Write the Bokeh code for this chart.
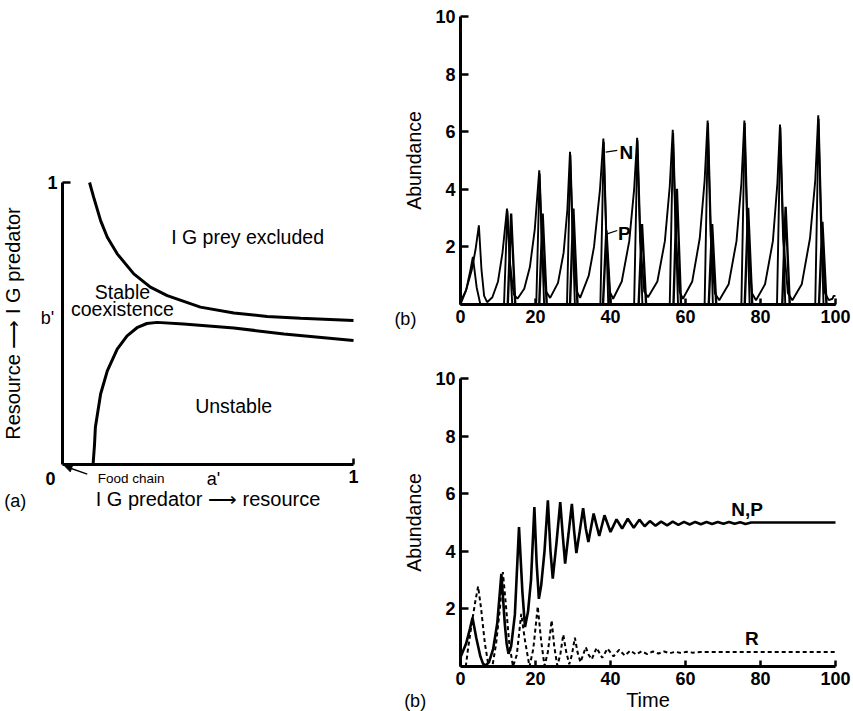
from bokeh.plotting import figure
from bokeh.models import Range1d, FixedTicker, Label, Arrow, NormalHead, LinearAxis
from bokeh.layouts import row, column
from bokeh.embed import file_html
from bokeh.resources import INLINE

FONT = "Liberation Sans"

# ---------------- panel (a): stability regions ----------------
upper_x = [0.093, 0.107, 0.131, 0.154, 0.188, 0.245, 0.302, 0.36, 0.474, 0.589, 0.703, 0.818, 1.0]
upper_y = [1.0, 0.948, 0.865, 0.806, 0.747, 0.676, 0.629, 0.599, 0.558, 0.537, 0.525, 0.519, 0.511]
lower_x = [0.105, 0.11, 0.113, 0.131, 0.154, 0.188, 0.222, 0.256, 0.29, 0.325, 0.416, 0.589, 0.761, 1.0]
lower_y = [0.0, 0.07, 0.132, 0.25, 0.332, 0.409, 0.456, 0.485, 0.50, 0.504, 0.498, 0.484, 0.463, 0.44]
a_prime = 0.519
b_prime = 0.521
region_labels = ["I G prey excluded", "Stable", "coexistence", "Unstable"]
region_x = [0.636, 0.206, 0.206, 0.588]
region_y = [0.805, 0.613, 0.55, 0.206]

# ---------------- panel (b) top: cycles ----------------
Rt_t = [0, 1.5, 3.0, 4.0, 4.9, 5.6, 6.3, 7.1, 8.5, 10.0, 11.2, 12.4, 13.2, 14.2, 15.2,
        17.0, 18.5, 19.8, 21.0, 21.8, 22.8, 23.9, 26.0, 27.5, 28.5, 29.2, 30.0, 31.0, 31.9,
        34.2, 35.6, 37.2, 38.1, 38.9, 39.8, 40.7, 43.0, 45.0, 46.3, 47.1, 47.9, 49.0, 50.0,
        52.5, 54.5, 55.8, 56.6, 57.4, 58.4, 59.3, 61.8, 63.8, 65.1, 65.9, 66.7, 67.8, 69.0,
        71.5, 73.6, 74.9, 75.7, 76.5, 77.7, 78.8, 81.2, 83.3, 84.5, 85.2, 86.0, 87.3, 88.5,
        91.0, 93.2, 94.6, 95.4, 96.2, 97.2, 98.2, 99.2, 99.5, 100]
Rt_v = [0.1, 0.5, 1.2, 1.9, 2.75, 1.2, 0.3, 0.08, 0.25, 0.8, 1.8, 3.33, 1.4, 0.35, 0.2,
        0.55, 1.3, 2.6, 4.66, 1.8, 0.45, 0.23, 0.75, 1.8, 3.3, 5.3, 2.0, 0.45, 0.23,
        1.0, 2.0, 4.0, 5.76, 2.2, 0.45, 0.2, 0.8, 2.2, 4.0, 5.79, 2.2, 0.45, 0.25,
        0.8, 2.2, 4.1, 6.07, 2.4, 0.45, 0.2, 0.8, 2.3, 4.3, 6.39, 2.4, 0.4, 0.15,
        0.7, 2.2, 4.2, 6.39, 2.4, 0.4, 0.15, 0.7, 2.2, 4.2, 6.25, 2.4, 0.4, 0.15,
        0.7, 2.3, 4.3, 6.57, 2.4, 0.4, 0.15, 0.2, 0.3, 0.3]
Nt_t = [0, 1.5, 2.5, 3.3, 4.3, 5.3, 11.6, 12.5, 13.8, 20.2, 21.1, 22.3, 28.4, 29.3, 30.5,
        37.3, 38.2, 39.4, 46.3, 47.2, 48.5, 55.8, 56.7, 58.0, 65.1, 66.0, 67.3, 74.9, 75.8, 77.1,
        84.4, 85.3, 86.6, 94.6, 95.5, 96.8, 100]
Nt_v = [0, 0.5, 1.1, 1.65, 0.6, 0, 0, 3.25, 0, 0, 4.55, 0, 0, 5.2, 0,
        0, 5.65, 0, 0, 5.7, 0, 0, 5.95, 0, 0, 6.3, 0, 0, 6.3, 0,
        0, 6.15, 0, 0, 6.45, 0, 0]
Pt_t = [0, 12.6, 13.5, 14.6, 21.0, 21.9, 23.0, 29.2, 30.1, 31.2, 38.0, 38.9, 40.0,
        47.5, 48.4, 49.5, 56.8, 57.7, 58.8, 66.2, 67.1, 68.2, 75.8, 76.7, 77.8,
        85.8, 86.7, 87.8, 95.6, 96.5, 97.6, 100]
Pt_v = [0, 0, 3.16, 0, 0, 3.16, 0, 0, 3.33, 0, 0, 2.58, 0,
        0, 2.79, 0, 0, 4.02, 0, 0, 2.79, 0, 0, 3.36, 0,
        0, 3.39, 0, 0, 2.87, 0, 0]

# ---------------- panel (b) bottom: damped ----------------
NP_t = [0, 1.5, 2.5, 3.2, 4.2, 5.3, 6.0, 6.7, 7.6, 8.7, 9.8, 10.9, 11.8, 12.3, 12.8, 13.5,
        14.5, 15.6, 16.5, 17.2, 18.0, 18.8, 19.7, 20.3, 20.9, 21.5, 22.4, 23.3, 24.0, 24.6,
        25.6, 26.6, 27.3, 27.9, 28.8, 29.7, 30.3, 30.9, 31.8, 32.7, 33.4, 34.1, 35.5, 37.0,
        38.4, 40.0, 41.6, 43.1, 44.6, 46.2, 47.7, 49.1, 50.5, 52.0, 53.5, 55.1, 56.6, 58.1,
        59.6, 61.1, 62.6, 64.1, 65.6, 67.1, 68.6, 70.1, 71.6, 73.1, 74.6, 76.0, 77.5, 100]
NP_v = [0.32, 0.8, 1.3, 1.69, 1.0, 0.35, 0.1, 0.03, 0.15, 0.6, 1.5, 3.22, 1.5, 0.8, 0.44, 0.7,
        1.8, 4.84, 2.6, 1.37, 1.9, 3.0, 5.54, 3.6, 2.35, 2.8, 4.0, 5.77, 4.0, 3.05,
        4.3, 5.71, 4.5, 3.57, 4.6, 5.65, 4.7, 3.94, 4.7, 5.5, 4.8, 4.32, 5.31, 4.53,
        5.25, 4.67, 5.11, 4.79, 5.13, 4.82, 5.1, 4.87, 5.05, 4.89, 5.03, 4.9, 5.03, 4.92,
        5.02, 4.93, 5.02, 4.94, 5.02, 4.95, 5.02, 4.96, 5.02, 4.96, 5.01, 4.95, 5.0, 5.0]
R_t = [1.4, 2.0, 3.0, 4.0, 4.7, 5.5, 6.5, 7.5, 8.5, 9.5, 10.5, 11.3, 12.2, 13.0, 14.0, 15.0,
       16.2, 17.2, 18.4, 19.4, 20.6, 21.5, 22.4, 23.3, 24.3, 25.0, 25.8, 26.6, 27.4, 28.2,
       29.0, 29.7, 30.5, 31.2, 32.0, 32.7, 33.4, 34.2, 35.0, 36.3, 37.8, 39.2, 40.8, 42.3,
       43.8, 45.3, 46.8, 48.3, 49.8, 51.3, 52.8, 54.3, 55.8, 57.3, 58.8, 60.3, 62.0, 64.0, 100]
R_v = [0, 0.6, 1.5, 2.3, 2.78, 2.0, 0.8, 0, 0, 0.8, 2.0, 3.28, 2.0, 0.8, 0, 0.4,
       1.83, 0.9, 0, 0.6, 2.08, 0.9, 0.02, 0.5, 1.6, 0.7, 0.03, 0.4, 1.11, 0.5,
       0.08, 0.4, 1.0, 0.5, 0.15, 0.4, 0.67, 0.4, 0.25, 0.65, 0.3, 0.62, 0.35, 0.58,
       0.38, 0.55, 0.42, 0.53, 0.43, 0.52, 0.45, 0.52, 0.46, 0.51, 0.47, 0.51, 0.48, 0.5, 0.5]

x_ticks_b = [0, 20, 40, 60, 80, 100]
y_ticks_b = [2, 4, 6, 8, 10]

# label positions (data coords of each panel)
N_leader_t = [38.7, 41.8]
N_leader_v = [5.29, 5.35]
P_leader_t = [39.1, 41.8]
P_leader_v = [2.45, 2.57]


def rng(p0, d0, p1, d1, lo, hi):
    """Range whose canvas pixels lo..hi put data d0 at pixel p0 and d1 at pixel p1."""
    s = (d1 - d0) / (p1 - p0)
    a, b = d0 + (lo - p0) * s, d0 + (hi - p0) * s
    return Range1d(min(a, b), max(a, b))


def make_fig(w, h, xr, yr):
    p = figure(width=w, height=h, x_range=xr, y_range=yr, output_backend="svg",
               toolbar_location=None, x_axis_location=None, y_axis_location=None,
               min_border=0, min_border_left=0, min_border_right=0,
               min_border_top=0, min_border_bottom=0)
    p.xgrid.visible = False
    p.ygrid.visible = False
    p.outline_line_color = None
    p.background_fill_color = "white"
    p.border_fill_color = "white"
    return p


def add_axis(p, side, ticks, bounds, tick_in, label="", label_standoff=0, overrides=None,
             label_size="19.5px"):
    ax = LinearAxis(fixed_location=0, bounds=bounds, ticker=FixedTicker(ticks=ticks))
    if overrides:
        ax.major_label_overrides = overrides
    ax.major_tick_in = tick_in
    ax.major_tick_out = 0
    ax.minor_tick_in = 0
    ax.minor_tick_out = 0
    ax.axis_line_width = 3
    ax.axis_line_color = "black"
    ax.major_tick_line_width = 2.5
    ax.major_tick_line_color = "black"
    ax.major_label_text_font = FONT
    ax.major_label_text_font_size = "18px"
    ax.major_label_text_font_style = "bold"
    ax.major_label_text_color = "black"
    ax.major_label_standoff = 5
    ax.axis_label = label
    ax.axis_label_standoff = label_standoff
    ax.axis_label_text_font = FONT
    ax.axis_label_text_font_style = "normal"
    ax.axis_label_text_font_size = label_size
    ax.axis_label_text_color = "black"
    p.add_layout(ax, side)
    return ax


def lab(p, x, y, text, size="19.5px", style="normal", align="center"):
    p.add_layout(Label(x=x, y=y, text=text, text_font=FONT, text_font_size=size,
                       text_font_style=style, text_align=align, text_baseline="middle",
                       text_color="black"))


W, H = 853, 711
LW = 393          # width of panel (a) canvas
TH = 348          # height of top-right canvas

# ---- (a)
pa = make_fig(LW, H, rng(62, 0, 353, 1, 0, LW), rng(464, 0, 182, 1, 0, H))
pa.line(upper_x, upper_y, line_width=3, color="black")
pa.line(lower_x, lower_y, line_width=3, color="black")
add_axis(pa, "below", [1], (0, 1), 6, "I G predator \u27f6 resource", 2, label_size="20px")
add_axis(pa, "left", [1], (0, 1), 8, "Resource \u27f6 I G predator", 20, label_size="20px")
for t, x, y in zip(region_labels, region_x, region_y):
    lab(pa, x, y, t)
lab(pa, -0.041, -0.05, "0", size="18px", style="bold")
lab(pa, a_prime, -0.05, "a'", size="18px")
lab(pa, -0.052, b_prime, "b'", size="18px")
lab(pa, -0.162, -0.128, "(a)", size="18px")
lab(pa, 0.236, -0.05, "Food chain", size="13.5px")
pa.add_layout(Arrow(end=NormalHead(size=7, fill_color="black", line_color="black"),
                    x_start=0.085, y_start=-0.034, x_end=0.008, y_end=-0.006,
                    line_width=1.5, line_color="black"))

# ---- (b) top
pt = make_fig(W - LW, TH, rng(460, 0, 835, 100, LW, W), rng(304, 0, 16, 10, 0, TH))
pt.line(Rt_t, Rt_v, line_width=1.9, color="black")
pt.line(Nt_t, Nt_v, line_width=1.9, color="black")
pt.line(Pt_t, Pt_v, line_width=2.4, color="black")
add_axis(pt, "below", x_ticks_b, (0, 100), 6)
add_axis(pt, "left", y_ticks_b, (0, 10), 8, "Abundance", 7)
pt.line(N_leader_t, N_leader_v, line_width=1.2, color="black")
pt.line(P_leader_t, P_leader_v, line_width=1.2, color="black")
lab(pt, 44.2, 5.28, "N", size="19px", style="bold")
lab(pt, 43.7, 2.45, "P", size="19px", style="bold")
lab(pt, -14.7, -0.49, "(b)", size="18px")

# ---- (b) bottom
pb = make_fig(W - LW, H - TH, rng(460, 0, 835, 100, LW, W), rng(666, 0, 378, 10, TH, H))
pb.line(NP_t, NP_v, line_width=2.6, color="black")
pb.line(R_t, R_v, line_width=2.0, color="black", line_dash="4 3")
add_axis(pb, "below", x_ticks_b, (0, 100), 6, "Time", 1, label_size="20px")
add_axis(pb, "left", y_ticks_b, (0, 10), 8, "Abundance", 7)
lab(pb, 76.4, 5.45, "N,P", size="19px", style="bold")
lab(pb, 77.7, 0.96, "R", size="19px", style="bold")
lab(pb, -12.1, -1.2, "(b)", size="18px")

layout = row(pa, column(pt, pb))
open("out.html", "w").write(file_html(layout, INLINE))
